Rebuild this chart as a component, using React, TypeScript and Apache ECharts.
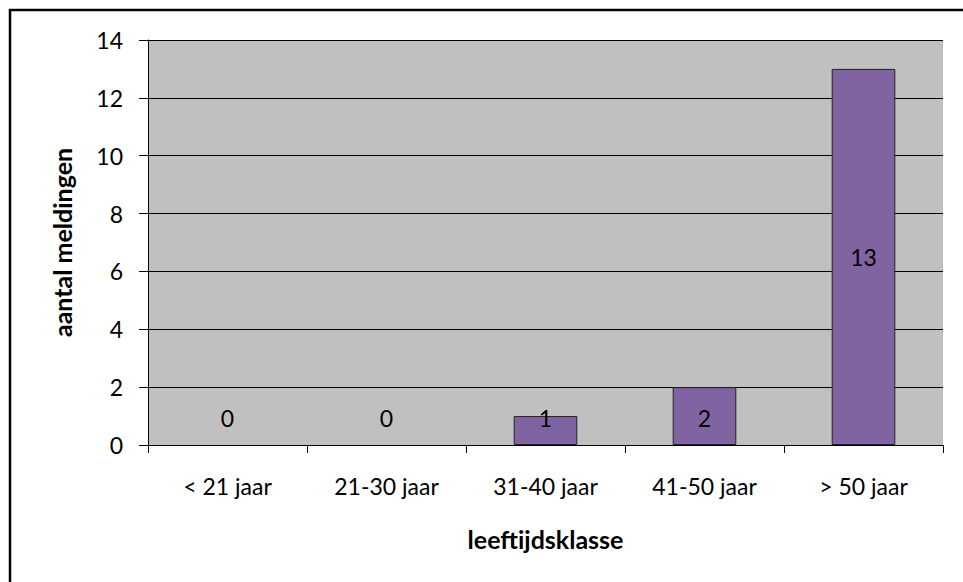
import React, { useEffect, useRef } from "react";
import * as echarts from "echarts";

const categories = ["< 21 jaar", "21-30 jaar", "31-40 jaar", "41-50 jaar", "> 50 jaar"];
const values = [0, 0, 1, 2, 13];
const yTicks = { min: 0, max: 14, interval: 2 };
const xTitle = "leeftijdsklasse";
const yTitle = "aantal meldingen";

const FONT = "Lato, 'Open Sans', sans-serif";

export default function App() {
  const ref = useRef<HTMLDivElement>(null);
  useEffect(() => {
    if (!ref.current) return;
    const chart = echarts.init(ref.current, undefined, { renderer: "svg" });
    chart.setOption({
      animation: false,
      backgroundColor: "#ffffff",
      textStyle: { fontFamily: FONT },
      grid: { left: 148, top: 40, width: 795, height: 405, show: true, backgroundColor: "#C0C0C0", borderWidth: 0 },
      xAxis: {
        type: "category",
        data: categories,
        boundaryGap: true,
        axisLine: { show: true, lineStyle: { color: "#000", width: 1 } },
        axisTick: { show: true, length: 8, alignWithLabel: false, lineStyle: { color: "#000" } },
        axisLabel: { color: "#000", fontSize: 23, fontFamily: FONT, margin: 29 },
        splitLine: { show: false },
        name: xTitle,
        nameLocation: "middle",
        nameGap: 81,
        nameTextStyle: { color: "#000", fontSize: 25, fontWeight: "bold", fontFamily: FONT },
      },
      yAxis: {
        type: "value",
        min: yTicks.min,
        max: yTicks.max,
        interval: yTicks.interval,
        axisLine: { show: true, lineStyle: { color: "#000", width: 1 } },
        axisTick: { show: true, length: 9, inside: false, lineStyle: { color: "#000" } },
        axisLabel: { color: "#000", fontSize: 23, fontFamily: FONT, margin: 25 },
        splitLine: { show: true, lineStyle: { color: "#000", width: 1 } },
        name: yTitle,
        nameLocation: "middle",
        nameGap: 74,
        nameRotate: 90,
        nameTextStyle: { color: "#000", fontSize: 25, fontWeight: "bold", fontFamily: FONT },
      },
      series: [
        {
          type: "bar",
          barWidth: "40%",
          data: values.map((v) => ({
            value: v,
            itemStyle: v === 0 ? { borderWidth: 0 } : {},
            label: v <= 2
              ? { position: "insideBottom", distance: 16 }
              : { position: "inside" },
          })),
          itemStyle: { color: "#8064A2", borderColor: "#222", borderWidth: 1 },
          label: { show: true, color: "#000", fontSize: 23, fontFamily: FONT },
        },
      ],
      graphic: [
        {
          type: "rect",
          shape: { x: 10, y: 10, width: 980, height: 600 },
          style: { fill: "none", stroke: "#000", lineWidth: 2.5 },
          silent: true,
        },
      ],
    });
    return () => chart.dispose();
  }, []);
  return (
    <div
      ref={ref}
      style={{ position: "fixed", left: 0, top: 0, width: 963, height: 582 }}
    />
  );
}
